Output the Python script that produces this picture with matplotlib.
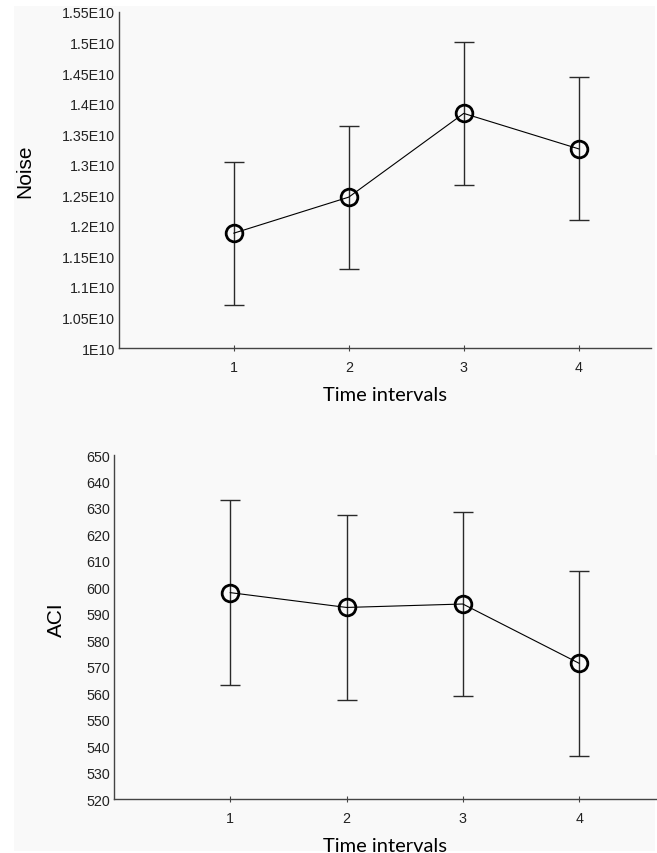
import numpy as np
import matplotlib.pyplot as plt
from matplotlib.patches import Rectangle
from matplotlib.ticker import FixedLocator, FixedFormatter

# --- datos ---
intervals = [1, 2, 3, 4]
noise_mean = [1.188e10, 1.247e10, 1.384e10, 1.326e10]
noise_err = [0.117e10, 0.117e10, 0.117e10, 0.117e10]
noise_ticks = [1.0e10, 1.05e10, 1.1e10, 1.15e10, 1.2e10, 1.25e10, 1.3e10,
               1.35e10, 1.4e10, 1.45e10, 1.5e10, 1.55e10]
noise_labels = ['1E10', '1.05E10', '1.1E10', '1.15E10', '1.2E10', '1.25E10',
                '1.3E10', '1.35E10', '1.4E10', '1.45E10', '1.5E10', '1.55E10']
aci_mean = [598.0, 592.4, 593.7, 571.3]
aci_err = [35.0, 34.8, 34.8, 34.9]
aci_ticks = list(range(520, 651, 10))

bg = '#f9f9f9'
fig = plt.figure(figsize=(6.57, 8.54), dpi=100, facecolor='white')
fig.patches.append(Rectangle((14/657, 2/854), 641/657, 845/854,
                             transform=fig.transFigure, facecolor=bg,
                             edgecolor='none', zorder=-10))

ax1 = fig.add_axes([0.181, 0.5913, 0.81, 0.3935])
ax2 = fig.add_axes([0.1735, 0.0632, 0.8265, 0.4028])

def panel(ax, mean, err, ylim, ticks, labels, ylabel, xmax, ylab_pos):
    ax.set_facecolor(bg)
    ax.errorbar(intervals, mean, yerr=err, fmt='none', ecolor='#2a2a2a',
                elinewidth=1.0, capsize=7, capthick=1.0, zorder=2)
    ax.plot(intervals, mean, color='black', lw=0.8, marker='o',
            markersize=12, markerfacecolor='none', markeredgecolor='black',
            markeredgewidth=2.0, zorder=3)
    ax.set_xlim(0, xmax)
    ax.set_ylim(*ylim)
    ax.yaxis.set_major_locator(FixedLocator(ticks))
    ax.yaxis.set_major_formatter(FixedFormatter(labels))
    ax.set_xticks(intervals)
    for s in ['top', 'right']:
        ax.spines[s].set_visible(False)
    for s in ['left', 'bottom']:
        ax.spines[s].set_color('#444444')
        ax.spines[s].set_linewidth(1.0)
    ax.tick_params(axis='y', length=0, labelsize=10.3, pad=3, labelcolor='#222222')
    ax.tick_params(axis='x', direction='inout', length=5, width=0.8,
                   color='#444444', labelsize=10.3, pad=6, labelcolor='#222222')
    for t in ax.get_xticklabels() + ax.get_yticklabels():
        t.set_family('Liberation Sans')
    ax.set_ylabel(ylabel, fontsize=15, family='Liberation Sans')
    ax.yaxis.set_label_coords(*ylab_pos)
    ax.set_xlabel('Time intervals', fontsize=14.5, family='Lato', labelpad=9)

panel(ax1, noise_mean, noise_err, (1.0e10, 1.55e10), noise_ticks,
      noise_labels, 'Noise', 4.63, (-0.16, 0.53))
panel(ax2, aci_mean, aci_err, (520, 650), aci_ticks,
      [str(v) for v in aci_ticks], 'ACI', 4.67, (-0.088, 0.523))

plt.savefig('out.png', dpi=100, facecolor='white')
